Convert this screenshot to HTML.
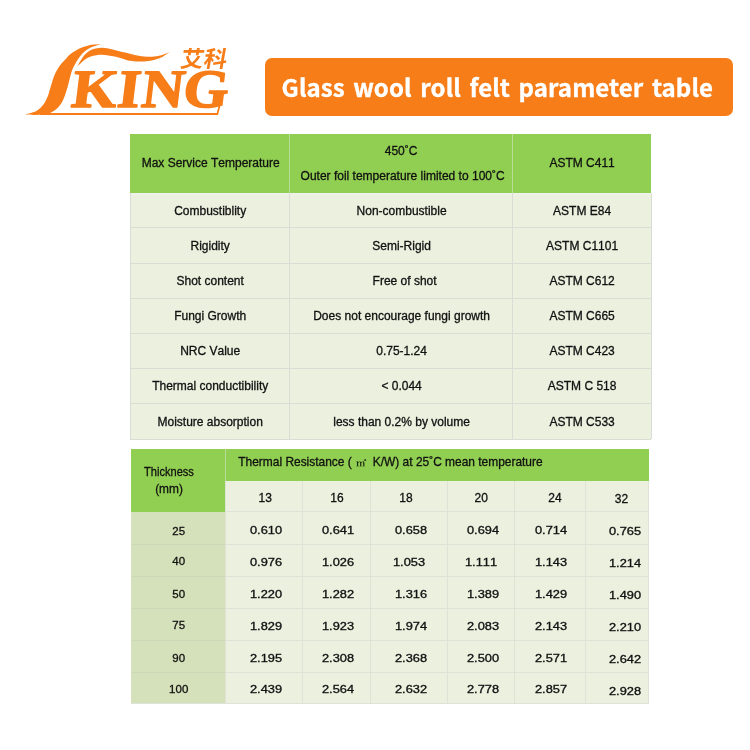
<!DOCTYPE html>
<html lang="en">
<head>
<meta charset="utf-8">
<title>Glass wool roll felt parameter table</title>
<style>
html,body{margin:0;padding:0;background:#fff;}
body{width:750px;height:750px;position:relative;overflow:hidden;font-family:"Liberation Sans","Noto Sans CJK SC",sans-serif;color:#111;}
#logo{position:absolute;left:0;top:0;width:260px;height:130px;}
#banner{position:absolute;left:265px;top:58px;width:468px;height:58px;background:#f67d18;border-radius:7px;}
#banner span{position:absolute;left:16.6px;top:9px;letter-spacing:0.085px;line-height:40px;font-family:"Noto Sans CJK SC","Liberation Sans",sans-serif;font-weight:700;font-size:24px;word-spacing:3px;color:#fff;white-space:nowrap;-webkit-text-stroke:0.35px #fff;}
.r{position:absolute;}
.g{background:#91cf52;}
.b{background:#ecf0df;}
.d{background:#d5e1ba;}
.ln{background:#daddd3;}
.lg{background:#b9dd97;}
.ld{background:#cdd8b8;}
.lw{background:linear-gradient(#f0f1ee,#eef1e6);}
.l2{background:#dfe2d6;}
.v{-webkit-text-stroke:0.45px #111;}
.t{position:absolute;white-space:nowrap;font-size:12px;line-height:14px;font-kerning:none;-webkit-text-stroke:0.3px #111;}
.m2{display:inline-block;width:13px;padding-left:1.4px;font-family:"Noto Serif CJK SC","Noto Sans CJK SC",serif;font-size:8.5px;font-weight:500;color:#182010;-webkit-text-stroke:0.15px #182010;}
.m2 i{display:inline-block;font-style:normal;transform:scaleX(1.2);transform-origin:0 50%;}
</style>
</head>
<body>
<svg id="logo" viewBox="0 0 260 130">
  <g fill="#f67d18">
    <path d="M24.4 114.6 C26.3 114.0 32.9 112.8 36.0 111.2 C39.1 109.6 41.3 107.1 43.2 104.8 C45.1 102.5 46.1 100.0 47.2 97.6 C48.3 95.2 48.8 92.9 49.6 90.4 C50.4 87.9 51.1 85.2 52.0 82.4 C52.9 79.6 54.0 76.3 55.2 73.6 C56.4 70.9 57.6 68.7 59.2 66.4 C60.8 64.1 63.0 62.0 64.8 60.0 C66.6 58.0 67.8 56.2 70.0 54.4 C72.2 52.6 75.3 50.6 78.0 49.2 C80.7 47.8 83.3 47.0 86.0 46.2 C88.7 45.4 91.5 44.9 94.0 44.6 C96.5 44.3 100.0 44.3 101.2 44.2 C100.0 44.5 96.3 45.4 94.0 46.2 C91.7 47.0 89.6 47.9 87.6 49.2 C85.6 50.5 83.6 52.3 82.0 54.0 C80.4 55.7 79.0 57.8 77.8 59.6 C76.6 61.4 75.5 63.4 74.6 65.0 C73.7 66.6 73.3 67.2 72.6 69.0 C71.9 70.8 71.2 73.2 70.4 76.0 C69.6 78.8 68.8 82.7 68.0 85.6 C67.2 88.5 66.5 90.9 65.6 93.6 C64.7 96.3 63.7 99.2 62.4 101.6 C61.1 104.0 59.3 106.3 57.6 108.0 C55.9 109.7 53.9 111.0 52.0 112.0 C50.1 113.0 48.7 113.5 46.0 114.0 C43.3 114.5 39.6 114.9 36.0 115.0 C32.4 115.1 26.3 114.7 24.4 114.6 Z"/>
    <path d="M77.2 66.4 C78.0 65.1 80.5 60.5 82.0 58.4 C83.5 56.3 84.7 54.9 86.0 53.6 C87.3 52.3 88.4 51.3 90.0 50.4 C91.6 49.5 93.6 48.8 95.6 48.4 C97.6 48.0 99.9 47.8 102.0 47.8 C104.1 47.8 106.3 48.0 108.4 48.4 C110.5 48.8 112.5 49.4 114.8 50.0 C117.1 50.6 119.8 51.5 122.0 52.0 C124.2 52.5 125.7 52.7 128.0 53.2 C130.3 53.7 133.3 54.7 136.0 55.2 C138.7 55.7 141.3 56.1 144.0 56.4 C146.7 56.7 149.3 56.9 152.0 56.8 C154.7 56.7 157.9 56.1 160.0 55.6 C162.1 55.1 163.2 54.6 164.8 54.0 C166.4 53.4 168.8 52.3 169.6 52.0 C168.5 52.7 165.2 55.3 163.2 56.4 C161.2 57.5 159.5 58.1 157.6 58.8 C155.7 59.5 154.3 60.0 152.0 60.4 C149.7 60.8 146.7 61.2 144.0 61.4 C141.3 61.6 138.7 61.6 136.0 61.4 C133.3 61.2 130.3 60.9 128.0 60.4 C125.7 59.9 124.2 59.2 122.0 58.6 C119.8 58.0 117.1 57.1 114.8 56.6 C112.5 56.1 110.5 55.7 108.4 55.4 C106.3 55.1 104.0 54.8 102.0 54.8 C100.0 54.8 98.3 54.9 96.4 55.2 C94.5 55.5 92.5 55.8 90.8 56.4 C89.1 57.0 87.5 57.9 86.0 58.8 C84.5 59.7 83.5 60.7 82.0 62.0 C80.5 63.3 78.0 65.7 77.2 66.4 Z"/>
    <rect x="40" y="113" width="178" height="2"/>
    <path d="M216.2 115 L221.8 94 L223.6 94 L218 115 Z"/>
    <text transform="translate(70.2 106.8) skewX(-7) scale(1.08 1)" font-family="'Liberation Serif',serif" font-weight="bold" font-size="54" stroke="#f67d18" stroke-width="1.5" stroke-linejoin="round" dx="0 0.3 1.6 -0.8">KING</text>
    <text transform="translate(179.5 67.2) skewX(-10)" font-family="'Noto Sans CJK SC','WenQuanYi Zen Hei',sans-serif" font-size="22.5" font-weight="700" textLength="46.5" lengthAdjust="spacingAndGlyphs">艾科</text>
  </g>
</svg>
<div id="banner"><span>Glass wool roll felt parameter table</span></div>
<!-- parameter table 1 -->
<div class="r g" style="left:130.1px;top:134px;width:520.8px;height:58.5px;"></div>
<div class="r b" style="left:130.1px;top:192.5px;width:520.8px;height:246.8px;"></div>
<div class="r ln" style="left:130.1px;top:227.2px;width:520.8px;height:1px;"></div>
<div class="r ln" style="left:130.1px;top:262.7px;width:520.8px;height:1px;"></div>
<div class="r ln" style="left:130.1px;top:297.8px;width:520.8px;height:1px;"></div>
<div class="r ln" style="left:130.1px;top:332.5px;width:520.8px;height:1px;"></div>
<div class="r ln" style="left:130.1px;top:368px;width:520.8px;height:1px;"></div>
<div class="r ln" style="left:130.1px;top:402.8px;width:520.8px;height:1px;"></div>
<div class="r lw" style="left:130.1px;top:192.5px;width:520.8px;height:2.5px;"></div>
<div class="r lg" style="left:288.9px;top:134px;width:1px;height:58.5px;"></div>
<div class="r ln" style="left:288.9px;top:192.5px;width:1px;height:246.8px;"></div>
<div class="r lg" style="left:511.9px;top:134px;width:1px;height:58.5px;"></div>
<div class="r ln" style="left:511.9px;top:192.5px;width:1px;height:246.8px;"></div>
<div class="r ln" style="left:130px;top:192.5px;width:1px;height:246.8px;"></div>
<div class="r ln" style="left:650.6px;top:192.5px;width:1.2px;height:246.8px;"></div>
<div class="r ln" style="left:130.1px;top:438.8px;width:520.8px;height:1px;"></div>
<span class="t" style="left:210.7px;top:156px;transform:translateX(-50%);">Max Service Temperature</span>
<span class="t" style="left:401.1px;top:144px;transform:translateX(-50%);">450˚C</span>
<span class="t" style="left:402.6px;top:169px;transform:translateX(-50%);">Outer foil temperature limited to 100˚C</span>
<span class="t" style="left:582.1px;top:156px;transform:translateX(-50%);">ASTM C411</span>
<span class="t" style="left:210.2px;top:204px;transform:translateX(-50%);">Combustiblity</span>
<span class="t" style="left:401.6px;top:204px;transform:translateX(-50%);">Non-combustible</span>
<span class="t" style="left:582.1px;top:204px;transform:translateX(-50%);">ASTM E84</span>
<span class="t" style="left:210.2px;top:239px;transform:translateX(-50%);">Rigidity</span>
<span class="t" style="left:401.6px;top:239px;transform:translateX(-50%);">Semi-Rigid</span>
<span class="t" style="left:582.1px;top:239px;transform:translateX(-50%);">ASTM C1101</span>
<span class="t" style="left:210.2px;top:274px;transform:translateX(-50%);">Shot content</span>
<span class="t" style="left:404.6px;top:274px;transform:translateX(-50%);">Free of shot</span>
<span class="t" style="left:582.1px;top:274px;transform:translateX(-50%);">ASTM C612</span>
<span class="t" style="left:210.2px;top:309px;transform:translateX(-50%);">Fungi Growth</span>
<span class="t" style="left:401.6px;top:309px;transform:translateX(-50%);">Does not encourage fungi growth</span>
<span class="t" style="left:582.1px;top:309px;transform:translateX(-50%);">ASTM C665</span>
<span class="t" style="left:210.2px;top:344px;transform:translateX(-50%);">NRC Value</span>
<span class="t" style="left:401.6px;top:344px;transform:translateX(-50%);">0.75-1.24</span>
<span class="t" style="left:582.1px;top:344px;transform:translateX(-50%);">ASTM C423</span>
<span class="t" style="left:210.2px;top:379px;transform:translateX(-50%);">Thermal conductibility</span>
<span class="t" style="left:401.6px;top:379px;transform:translateX(-50%);">&lt; 0.044</span>
<span class="t" style="left:582.1px;top:379px;transform:translateX(-50%);">ASTM C 518</span>
<span class="t" style="left:210.2px;top:415px;transform:translateX(-50%);">Moisture absorption</span>
<span class="t" style="left:401.6px;top:415px;transform:translateX(-50%);">less than 0.2% by volume</span>
<span class="t" style="left:582.1px;top:415px;transform:translateX(-50%);">ASTM C533</span>
<!-- parameter table 2 -->
<div class="r g" style="left:131.2px;top:449.2px;width:517.7px;height:31.8px;"></div>
<div class="r g" style="left:131.2px;top:481px;width:94.3px;height:30.7px;"></div>
<div class="r d" style="left:131.2px;top:511.7px;width:94.3px;height:192px;"></div>
<div class="r b" style="left:225.5px;top:481px;width:423.4px;height:222.7px;"></div>
<div class="r l2" style="left:225.5px;top:511.2px;width:423.4px;height:1px;"></div>
<div class="r l2" style="left:225.5px;top:543.5px;width:423.4px;height:1px;"></div>
<div class="r l2" style="left:225.5px;top:575.8px;width:423.4px;height:1px;"></div>
<div class="r l2" style="left:225.5px;top:607.8px;width:423.4px;height:1px;"></div>
<div class="r l2" style="left:225.5px;top:639.9px;width:423.4px;height:1px;"></div>
<div class="r l2" style="left:225.5px;top:671.8px;width:423.4px;height:1px;"></div>
<div class="r ld" style="left:131.2px;top:543.5px;width:94.3px;height:1px;"></div>
<div class="r ld" style="left:131.2px;top:575.8px;width:94.3px;height:1px;"></div>
<div class="r ld" style="left:131.2px;top:607.8px;width:94.3px;height:1px;"></div>
<div class="r ld" style="left:131.2px;top:639.9px;width:94.3px;height:1px;"></div>
<div class="r ld" style="left:131.2px;top:671.8px;width:94.3px;height:1px;"></div>
<div class="r l2" style="left:301.6px;top:481px;width:1px;height:222.7px;"></div>
<div class="r l2" style="left:370.2px;top:481px;width:1px;height:222.7px;"></div>
<div class="r l2" style="left:446.7px;top:481px;width:1px;height:222.7px;"></div>
<div class="r l2" style="left:513.9px;top:481px;width:1px;height:222.7px;"></div>
<div class="r l2" style="left:584.9px;top:481px;width:1px;height:222.7px;"></div>
<div class="r lg" style="left:225px;top:449.2px;width:1px;height:31.8px;"></div>
<div class="r l2" style="left:225px;top:481px;width:1px;height:222.7px;"></div>
<div class="r l2" style="left:648.4px;top:481px;width:1px;height:222.7px;"></div>
<div class="r l2" style="left:131.2px;top:703.2px;width:517.7px;height:1px;"></div>
<span class="t" style="left:168.8px;top:465px;transform:translateX(-50%) scaleX(0.885);font-size:12.5px;">Thickness</span>
<span class="t" style="left:169.2px;top:482px;transform:translateX(-50%) scaleX(0.95);font-size:12.5px;">(mm)</span>
<span class="t" style="left:238.3px;top:455px;font-size:11.95px;">Thermal Resistance ( <span class="m2"><i>㎡</i></span> K/W) at 25˚C mean temperature</span>
<span class="t" style="left:265.3px;top:491px;transform:translateX(-50%);">13</span>
<span class="t" style="left:337px;top:491px;transform:translateX(-50%);">16</span>
<span class="t" style="left:406px;top:491px;transform:translateX(-50%);">18</span>
<span class="t" style="left:481.3px;top:491px;transform:translateX(-50%);">20</span>
<span class="t" style="left:555px;top:491px;transform:translateX(-50%);">24</span>
<span class="t" style="left:621.4px;top:492px;transform:translateX(-50%);">32</span>
<span class="t" style="left:178.7px;top:524px;transform:translateX(-50%);font-size:11.5px;">25</span>
<span class="t" style="left:178.7px;top:554px;transform:translateX(-50%);font-size:11.5px;">40</span>
<span class="t" style="left:178.7px;top:587px;transform:translateX(-50%);font-size:11.5px;">50</span>
<span class="t" style="left:178.7px;top:618px;transform:translateX(-50%);font-size:11.5px;">75</span>
<span class="t" style="left:178.7px;top:651px;transform:translateX(-50%);font-size:11.5px;">90</span>
<span class="t" style="left:178.7px;top:682px;transform:translateX(-50%);font-size:11.5px;">100</span>
<span class="t v" style="left:266.2px;top:524px;transform:translateX(-50%) scaleX(1.28);font-size:10px;">0.610</span>
<span class="t v" style="left:337.8px;top:524px;transform:translateX(-50%) scaleX(1.28);font-size:10px;">0.641</span>
<span class="t v" style="left:411px;top:524px;transform:translateX(-50%) scaleX(1.28);font-size:10px;">0.658</span>
<span class="t v" style="left:482.8px;top:524px;transform:translateX(-50%) scaleX(1.28);font-size:10px;">0.694</span>
<span class="t v" style="left:550.6px;top:524px;transform:translateX(-50%) scaleX(1.28);font-size:10px;">0.714</span>
<span class="t v" style="left:625.2px;top:525px;transform:translateX(-50%) scaleX(1.28);font-size:10px;">0.765</span>
<span class="t v" style="left:266.2px;top:556px;transform:translateX(-50%) scaleX(1.28);font-size:10px;">0.976</span>
<span class="t v" style="left:337.8px;top:556px;transform:translateX(-50%) scaleX(1.28);font-size:10px;">1.026</span>
<span class="t v" style="left:409.3px;top:556px;transform:translateX(-50%) scaleX(1.28);font-size:10px;">1.053</span>
<span class="t v" style="left:481.1px;top:556px;transform:translateX(-50%) scaleX(1.28);font-size:10px;">1.111</span>
<span class="t v" style="left:550.6px;top:556px;transform:translateX(-50%) scaleX(1.28);font-size:10px;">1.143</span>
<span class="t v" style="left:625.2px;top:557px;transform:translateX(-50%) scaleX(1.28);font-size:10px;">1.214</span>
<span class="t v" style="left:266.2px;top:588px;transform:translateX(-50%) scaleX(1.28);font-size:10px;">1.220</span>
<span class="t v" style="left:337.8px;top:588px;transform:translateX(-50%) scaleX(1.28);font-size:10px;">1.282</span>
<span class="t v" style="left:411px;top:588px;transform:translateX(-50%) scaleX(1.28);font-size:10px;">1.316</span>
<span class="t v" style="left:482.8px;top:588px;transform:translateX(-50%) scaleX(1.28);font-size:10px;">1.389</span>
<span class="t v" style="left:550.6px;top:588px;transform:translateX(-50%) scaleX(1.28);font-size:10px;">1.429</span>
<span class="t v" style="left:625.2px;top:589px;transform:translateX(-50%) scaleX(1.28);font-size:10px;">1.490</span>
<span class="t v" style="left:266.2px;top:620px;transform:translateX(-50%) scaleX(1.28);font-size:10px;">1.829</span>
<span class="t v" style="left:337.8px;top:620px;transform:translateX(-50%) scaleX(1.28);font-size:10px;">1.923</span>
<span class="t v" style="left:411px;top:620px;transform:translateX(-50%) scaleX(1.28);font-size:10px;">1.974</span>
<span class="t v" style="left:482.8px;top:620px;transform:translateX(-50%) scaleX(1.28);font-size:10px;">2.083</span>
<span class="t v" style="left:550.6px;top:620px;transform:translateX(-50%) scaleX(1.28);font-size:10px;">2.143</span>
<span class="t v" style="left:625.2px;top:621px;transform:translateX(-50%) scaleX(1.28);font-size:10px;">2.210</span>
<span class="t v" style="left:266.2px;top:652px;transform:translateX(-50%) scaleX(1.28);font-size:10px;">2.195</span>
<span class="t v" style="left:337.8px;top:652px;transform:translateX(-50%) scaleX(1.28);font-size:10px;">2.308</span>
<span class="t v" style="left:411px;top:652px;transform:translateX(-50%) scaleX(1.28);font-size:10px;">2.368</span>
<span class="t v" style="left:482.8px;top:652px;transform:translateX(-50%) scaleX(1.28);font-size:10px;">2.500</span>
<span class="t v" style="left:550.6px;top:652px;transform:translateX(-50%) scaleX(1.28);font-size:10px;">2.571</span>
<span class="t v" style="left:625.2px;top:653px;transform:translateX(-50%) scaleX(1.28);font-size:10px;">2.642</span>
<span class="t v" style="left:266.2px;top:683px;transform:translateX(-50%) scaleX(1.28);font-size:10px;">2.439</span>
<span class="t v" style="left:337.8px;top:683px;transform:translateX(-50%) scaleX(1.28);font-size:10px;">2.564</span>
<span class="t v" style="left:411px;top:683px;transform:translateX(-50%) scaleX(1.28);font-size:10px;">2.632</span>
<span class="t v" style="left:482.8px;top:683px;transform:translateX(-50%) scaleX(1.28);font-size:10px;">2.778</span>
<span class="t v" style="left:550.6px;top:683px;transform:translateX(-50%) scaleX(1.28);font-size:10px;">2.857</span>
<span class="t v" style="left:625.2px;top:685px;transform:translateX(-50%) scaleX(1.28);font-size:10px;">2.928</span>
</body>
</html>
